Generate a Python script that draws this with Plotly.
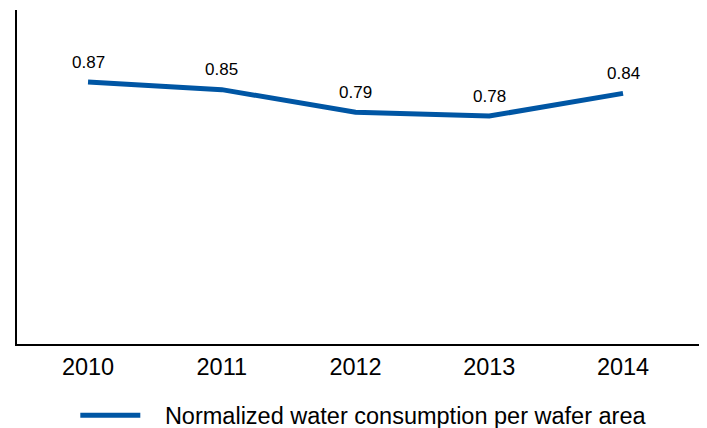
import plotly.graph_objects as go

years = ["2010", "2011", "2012", "2013", "2014"]
water = [0.87, 0.85, 0.79, 0.78, 0.84]
labels = ["0.87", "0.85", "0.79", "0.78", "0.84"]
series_name = "Normalized water consumption per wafer area"

line_color = "#0056A4"
font_family = "Liberation Sans, Arial, sans-serif"

fig = go.Figure()
fig.add_trace(go.Scatter(
    x=years, y=water, mode="lines", name="&nbsp;&nbsp;&nbsp;" + series_name,
    line=dict(color=line_color, width=5),
    hoverinfo="skip",
))

for i, (y, t) in enumerate(zip(water, labels)):
    fig.add_annotation(x=i, y=y, text=t, showarrow=False, yshift=20,
                       yanchor="middle", font=dict(size=17, color="black", family=font_family))

fig.update_layout(
    width=691, height=420,
    margin=dict(l=9, r=0, t=2, b=84, autoexpand=False),
    paper_bgcolor="white", plot_bgcolor="white",
    font=dict(family=font_family, color="black"),
    showlegend=True,
    legend=dict(orientation="h", x=0.0855, xanchor="left", y=-0.148, yanchor="top",
                font=dict(size=23.5, color="black", family=font_family), itemwidth=60),
    xaxis=dict(type="category", range=[-0.531, 4.568], showline=True, linecolor="black", linewidth=2,
               showgrid=False, zeroline=False, ticks="", tickfont=dict(size=23.5, color="black"),
               ticklabelstandoff=1, fixedrange=True),
    yaxis=dict(range=[0.176, 1.061], showline=True, linecolor="black", linewidth=2,
               showgrid=False, zeroline=False, showticklabels=False, ticks="", fixedrange=True),
)

fig.write_html("out.html")
